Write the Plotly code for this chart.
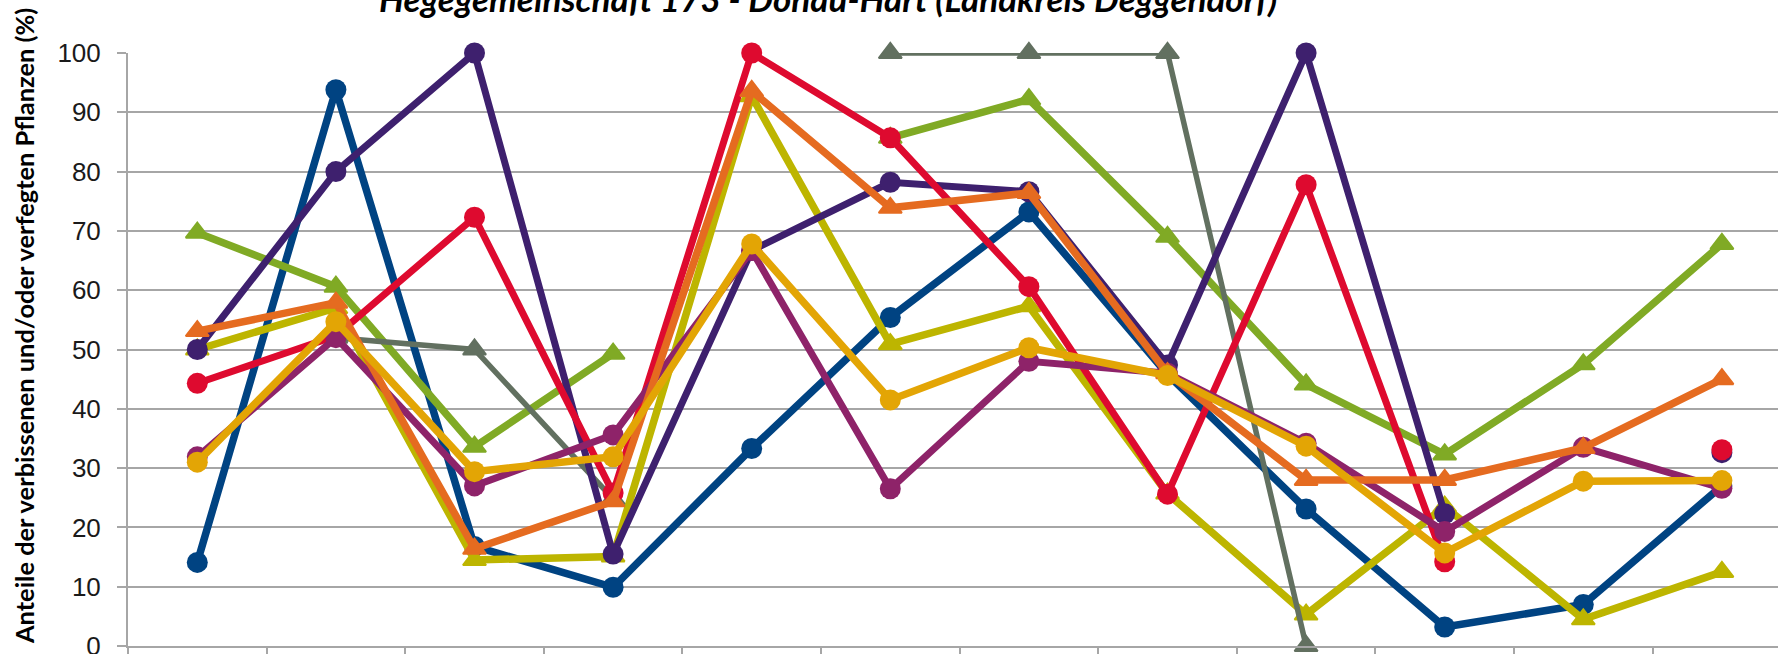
import plotly.graph_objects as go

# Category positions (names are cut off in the reference image)
categories = list(range(1, 13))
y_ticks = list(range(0, 101, 10))

title_text = "Hegegemeinschaft 173 - Donau-Hart (Landkreis Deggendorf)"
y_title = "Anteile der verbissenen und/oder verfegten Pflanzen (%)"

N = None
s_gray   = [N, 52.0, 50.0, 24.8, N, 100, 100, 100, 0, N, N, N]
s_blue   = [14.1, 93.8, 16.8, 9.9, 33.3, 55.4, 73.2, 45.8, 23.1, 3.2, 7.0, 27.0]
s_green  = [69.7, 60.6, 33.6, 49.3, N, 85.7, 92.2, 69.0, 44.1, 32.3, 47.5, 67.8]
s_olive  = [50.0, 57.0, 14.5, 15.1, 92.7, 50.9, 57.3, 25.7, 5.3, 23.5, 4.5, 12.5]
s_indigo = [50.0, 80.0, 100, 15.5, 66.7, 78.2, 76.6, 47.4, 100, 22.3, N, 32.6]
s_red    = [44.3, 52.3, 72.3, 25.8, 100, 85.7, 60.6, 25.6, 77.8, 14.2, N, 33.1]
s_plum   = [31.9, 52.0, 27.0, 35.6, 66.7, 26.5, 48.0, 46.0, 34.2, 19.3, 33.5, 26.6]
s_orange = [53.1, 57.9, 16.4, 24.4, 93.6, 73.9, 76.4, 46.0, 28.0, 28.0, 33.4, 45.0]
s_amber  = [31.0, 54.7, 29.4, 31.9, 67.8, 41.5, 50.3, 45.6, 33.7, 15.7, 27.8, 27.9]

# (values, colour, symbol, line width) in drawing order, bottom to top
series = [
    (s_blue,   "#004382", "circle",      7.5),
    (s_green,  "#80AA25", "triangle-up", 7.5),
    (s_olive,  "#BDB500", "triangle-up", 7.5),
    (s_gray,   "#627060", "triangle-up", 5.5),
    (s_indigo, "#3E206E", "circle",      7.0),
    (s_red,    "#DE0A2F", "circle",      7.0),
    (s_plum,   "#8E2369", "circle",      7.0),
    (s_orange, "#E56B20", "triangle-up", 7.5),
    (s_amber,  "#E3A505", "circle",      7.5),
]

x_idx = [c - 1 for c in categories]

fig = go.Figure()
for vals, col, sym, lw in series:
    is_tri = sym.startswith("triangle")
    fig.add_trace(go.Scatter(
        x=x_idx, y=vals, mode="lines+markers",
        line=dict(color=col, width=lw),
        marker=dict(symbol=sym, color=col, size=20 if is_tri else 21,
                    line=dict(color=col, width=2 if is_tri else 0)),
        connectgaps=False, cliponaxis=False, showlegend=False,
    ))

W, H = 1778, 654
L, T, B, R = 128, 53, 8, 0
cat_w = 138.6
x_max = -0.5 + (W - L - R) / cat_w
PH = H - T - B

fig.update_layout(
    width=W, height=H,
    margin=dict(l=L, r=R, t=T, b=B, pad=0, autoexpand=False),
    paper_bgcolor="white", plot_bgcolor="white",
    showlegend=False,
    xaxis=dict(
        range=[-0.5, x_max], tickmode="array",
        tickvals=[i - 0.5 for i in range(13)],
        showticklabels=False, ticks="outside", ticklen=10,
        tickcolor="#A6A6A6", tickwidth=2, automargin=False,
        showgrid=False, zeroline=False,
        showline=True, linecolor="#A6A6A6", linewidth=2,
    ),
    yaxis=dict(
        range=[0, 100], tickmode="array", tickvals=y_ticks,
        ticktext=[str(v) for v in y_ticks], automargin=False,
        ticks="outside", ticklen=9, tickcolor="#A6A6A6", tickwidth=2,
        ticklabelstandoff=11, ticklabeloverflow="allow",
        tickfont=dict(family="Liberation Sans", size=26, color="#1a1a1a"),
        showgrid=True, gridcolor="#A6A6A6", gridwidth=2,
        zeroline=False,
        showline=True, linecolor="#A6A6A6", linewidth=2,
    ),
    annotations=[
        dict(text="<b><i>" + title_text + "</i></b>", xref="paper", yref="paper",
             x=(828 - L) / (W - L - R), y=(H - B - 21) / PH,
             xanchor="center", yanchor="bottom", showarrow=False,
             font=dict(family="Lato", size=35, color="#000000")),
        dict(text="<b>" + y_title + "</b>", xref="paper", yref="paper",
             x=0, xshift=24 - L, y=(H - B - 326) / PH,
             xanchor="center", yanchor="middle", textangle=-90, showarrow=False,
             font=dict(family="Lato", size=25.4, color="#000000")),
    ],
)

fig.write_html("out.html",
               config={"displayModeBar": False},
               post_script="document.body.style.margin='0';"
                           "document.body.style.overflow='hidden';")
